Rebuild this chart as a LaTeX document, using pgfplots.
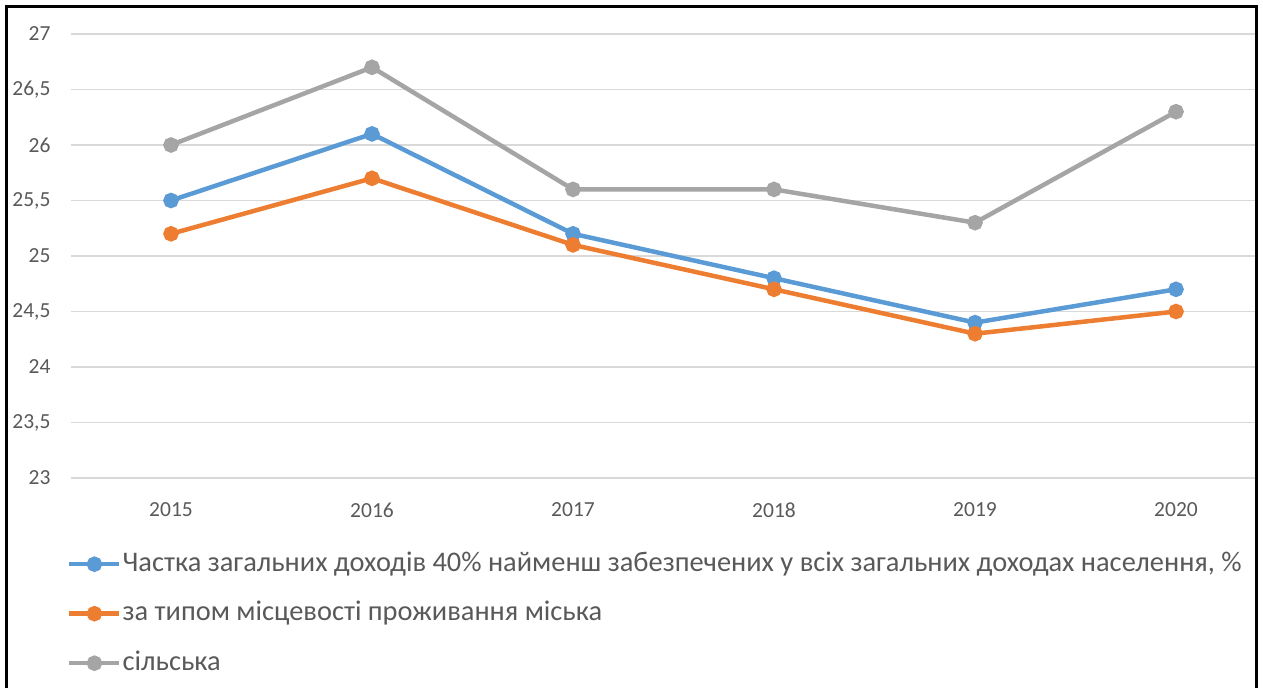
\documentclass[border=0pt]{standalone}
\usepackage{pgfplots}
\pgfplotsset{compat=1.18}
\usepackage{fontspec}
\setmainfont{Carlito}
\definecolor{sblue}{RGB}{91,155,213}
\definecolor{sorange}{RGB}{237,125,49}
\definecolor{sgray}{RGB}{165,165,165}
\definecolor{gridgray}{RGB}{217,217,217}
\definecolor{txtgray}{RGB}{89,89,89}
\begin{document}
\begin{tikzpicture}[x=1pt,y=1pt]
\useasboundingbox (0,0) rectangle (1263,688);
\draw[line width=3pt] (6.5,0) -- (6.5,681.5) -- (1256.5,681.5) -- (1256.5,0);
\begin{axis}[
  at={(71pt,210pt)}, anchor=south west,
  width=1184pt, height=444pt, scale only axis,
  xmin=-0.4975, xmax=5.393, ymin=23, ymax=27,
  xtick={0,1,2,3,4,5}, xticklabels={2015,2016,2017,2018,2019,2020},
  ytick={23,23.5,24,24.5,25,25.5,26,26.5,27},
  axis line style={draw=none}, major tick length=0pt,
  ymajorgrids, grid style={line width=1.5pt, gridgray},
  ticklabel style={font=\fontsize{21.5}{24}\selectfont, text=txtgray},
  yticklabel style={xshift=-17pt},
  xticklabel style={yshift=-21pt},
  /pgf/number format/use comma,
  /pgf/number format/assume math mode=true,
  every axis plot/.append style={line width=4.5pt, mark=*, mark size=5.5pt},
  legend cell align=left,
  legend image code/.code={\draw[mark repeat=2, mark phase=2] plot coordinates {(0pt,0pt) (25pt,0pt) (50pt,0pt)};},
  legend style={at={(-4pt,-73pt)}, anchor=north west, draw=none, fill=none,
    font=\fontsize{28.4}{32}\selectfont, text=txtgray, inner sep=0pt,
    nodes={inner xsep=1pt, inner ysep=0pt, text height=20pt, text depth=6pt},
    row sep=23.5pt},
]
\addplot[sblue, mark options={fill=sblue}] coordinates {(0,25.5) (1,26.1) (2,25.2) (3,24.8) (4,24.4) (5,24.7)};
\addlegendentry{Частка загальних доходів 40\% найменш забезпечених у всіх загальних доходах населення, \%}
\addplot[sorange, mark options={fill=sorange}] coordinates {(0,25.2) (1,25.7) (2,25.1) (3,24.7) (4,24.3) (5,24.5)};
\addlegendentry{за типом місцевості проживання міська}
\addplot[sgray, mark options={fill=sgray}] coordinates {(0,26.0) (1,26.7) (2,25.6) (3,25.6) (4,25.3) (5,26.3)};
\addlegendentry{сільська}
\end{axis}
\end{tikzpicture}
\end{document}
